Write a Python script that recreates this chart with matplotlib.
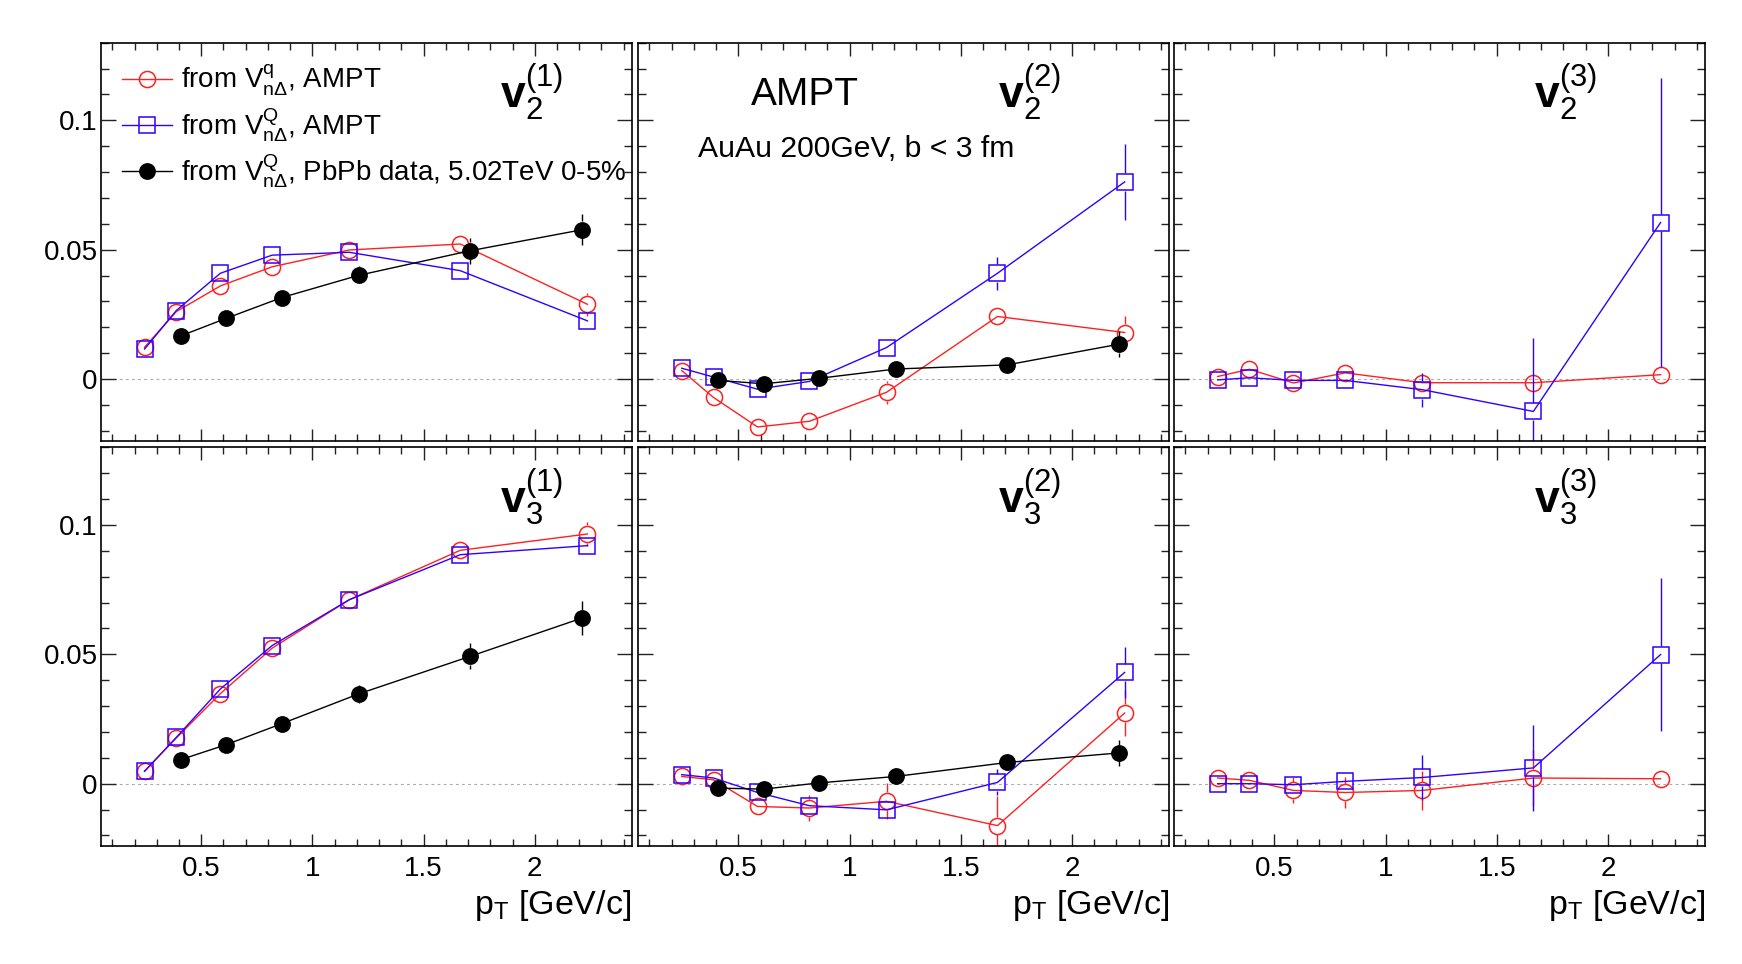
import matplotlib
matplotlib.use("Agg")
import matplotlib.pyplot as plt
from matplotlib.ticker import MultipleLocator

plt.rcParams['font.family'] = ['Liberation Sans', 'DejaVu Sans']
plt.rcParams['mathtext.fontset'] = 'custom'
plt.rcParams['mathtext.rm'] = 'Liberation Sans'
plt.rcParams['mathtext.it'] = 'Liberation Sans:italic'
plt.rcParams['mathtext.bf'] = 'Liberation Sans:bold'
plt.rcParams['mathtext.sf'] = 'Liberation Sans'

# ---------------- data ----------------
pt_ampt = [0.245, 0.388, 0.586, 0.819, 1.166, 1.665, 2.237]
pt_data = [0.408, 0.613, 0.862, 1.208, 1.709, 2.212]

# v2^(1)
v21_q = [0.0123, 0.0261, 0.0360, 0.0434, 0.0499, 0.0522, 0.0289]
v21_q_err = [0.001, 0.001, 0.001, 0.001, 0.0015, 0.002, 0.0045]
v21_Q = [0.0116, 0.0265, 0.0409, 0.0479, 0.0490, 0.0419, 0.0225]
v21_Q_err = [0.001, 0.001, 0.001, 0.001, 0.0015, 0.002, 0.003]
v21_d = [0.0167, 0.0235, 0.0315, 0.0401, 0.0496, 0.0577]
v21_d_err = [0.001, 0.001, 0.0015, 0.0035, 0.005, 0.006]

# v2^(2)
v22_q = [0.0033, -0.0071, -0.0185, -0.0163, -0.0051, 0.0242, 0.0180]
v22_q_err = [0.001, 0.001, 0.001, 0.002, 0.0044, 0.002, 0.0063]
v22_Q = [0.0042, 0.0008, -0.0039, -0.0009, 0.0122, 0.0409, 0.0762]
v22_Q_err = [0.001, 0.001, 0.001, 0.001, 0.002, 0.0064, 0.0148]
v22_d = [-0.0005, -0.0018, 0.0003, 0.0039, 0.0055, 0.0135]
v22_d_err = [0.001, 0.001, 0.001, 0.001, 0.001, 0.005]

# v2^(3)
v23_q = [0.0010, 0.0038, -0.0015, 0.0024, -0.0014, -0.0014, 0.0017]
v23_q_err = [0.001, 0.001, 0.001, 0.001, 0.002, 0.002, 0.002]
v23_Q = [-0.0003, 0.0005, -0.0005, -0.0005, -0.0041, -0.0125, 0.0605]
v23_Q_err = [0.001, 0.001, 0.001, 0.001, 0.0065, 0.0283, 0.056]

# v3^(1)
v31_q = [0.0048, 0.0177, 0.0348, 0.0524, 0.0711, 0.0902, 0.0965]
v31_q_err = [0.001, 0.001, 0.001, 0.001, 0.001, 0.002, 0.0045]
v31_Q = [0.0048, 0.0179, 0.0366, 0.0534, 0.0711, 0.0885, 0.0920]
v31_Q_err = [0.001, 0.001, 0.001, 0.001, 0.001, 0.002, 0.003]
v31_d = [0.0093, 0.0151, 0.0232, 0.0347, 0.0492, 0.0640]
v31_d_err = [0.001, 0.001, 0.0015, 0.0035, 0.005, 0.0065]

# v3^(2)
v32_q = [0.0028, 0.0015, -0.0088, -0.0094, -0.0068, -0.0162, 0.0273]
v32_q_err = [0.001, 0.001, 0.001, 0.005, 0.007, 0.0113, 0.009]
v32_Q = [0.0035, 0.0022, -0.0034, -0.0085, -0.0101, 0.0005, 0.0430]
v32_Q_err = [0.001, 0.001, 0.001, 0.001, 0.003, 0.005, 0.0099]
v32_d = [-0.0017, -0.0021, 0.0003, 0.0028, 0.0082, 0.0119]
v32_d_err = [0.001, 0.001, 0.001, 0.001, 0.001, 0.005]

# v3^(3)
v33_q = [0.0022, 0.0013, -0.0026, -0.0034, -0.0026, 0.0022, 0.0019]
v33_q_err = [0.001, 0.001, 0.005, 0.006, 0.0075, 0.011, 0.001]
v33_Q = [0.0000, 0.0000, -0.0004, 0.0009, 0.0024, 0.0061, 0.0499]
v33_Q_err = [0.001, 0.001, 0.001, 0.001, 0.0087, 0.0165, 0.0294]

panel_labels = [[r'$\mathbf{v}_{\mathrm{2}}^{\mathrm{(1)}}$', r'$\mathbf{v}_{\mathrm{2}}^{\mathrm{(2)}}$', r'$\mathbf{v}_{\mathrm{2}}^{\mathrm{(3)}}$'],
                [r'$\mathbf{v}_{\mathrm{3}}^{\mathrm{(1)}}$', r'$\mathbf{v}_{\mathrm{3}}^{\mathrm{(2)}}$', r'$\mathbf{v}_{\mathrm{3}}^{\mathrm{(3)}}$']]

series = [
    [(v21_q, v21_q_err, v21_Q, v21_Q_err, v21_d, v21_d_err),
     (v22_q, v22_q_err, v22_Q, v22_Q_err, v22_d, v22_d_err),
     (v23_q, v23_q_err, v23_Q, v23_Q_err, None, None)],
    [(v31_q, v31_q_err, v31_Q, v31_Q_err, v31_d, v31_d_err),
     (v32_q, v32_q_err, v32_Q, v32_Q_err, v32_d, v32_d_err),
     (v33_q, v33_q_err, v33_Q, v33_Q_err, None, None)],
]

legend_labels = [r'from $\mathrm{V}^{\mathrm{q}}_{\mathrm{n\Delta}}$, AMPT',
                 r'from $\mathrm{V}^{\mathrm{Q}}_{\mathrm{n\Delta}}$, AMPT',
                 r'from $\mathrm{V}^{\mathrm{Q}}_{\mathrm{n\Delta}}$, PbPb data, 5.02TeV 0-5%']

xticks = [0.5, 1.0, 1.5, 2.0]
xtick_labels = ['0.5', '1', '1.5', '2']
yticks = [0.0, 0.05, 0.1]
ytick_labels = ['0', '0.05', '0.1']

# ---------------- style ----------------
RED = '#ff2020'
BLUE = '#3000ff'
BLACK = '#000000'
XLIM = (0.047, 2.435)
YLIM = (-0.024, 0.130)

W, H = 1742, 964
DPI = 100
fig = plt.figure(figsize=(W / DPI, H / DPI), dpi=DPI)

col_x = [100.5, 637.7, 1173.6]
col_w = 531.0
row_top = [42.7, 447.3]
row_h = 398.5

MS_OPEN = 11.6
MS_FILL = 11.0
MEW = 1.1
LW = 1.0


def draw(ax, x, y, e, color, marker, filled, ms):
    line, = ax.plot(x, y, color=color, lw=LW, marker=marker, ms=ms,
                    mfc=color if filled else 'none', mec=color, mew=MEW, zorder=3 if filled else 2)
    half_px = (ms + MEW) / 72 * DPI / 2
    half = half_px * (YLIM[1] - YLIM[0]) / row_h
    for xi, yi, ei in zip(x, y, e):
        if ei > half:
            ax.vlines([xi, xi], [yi + half, yi - ei], [yi + ei, yi - half],
                      color=color, lw=LW, zorder=2)
    return line


for r in range(2):
    for c in range(3):
        ax = fig.add_axes([col_x[c] / W, 1 - (row_top[r] + row_h) / H, col_w / W, row_h / H])
        ax.set_xlim(*XLIM)
        ax.set_ylim(*YLIM)
        ax.axhline(0, color='#aaaaaa', lw=0.8, ls=(0, (2.5, 3)), zorder=1)
        qv, qe, Qv, Qe, dv, de = series[r][c]
        h1 = draw(ax, pt_ampt, qv, qe, RED, 'o', False, MS_OPEN)
        h2 = draw(ax, pt_ampt, Qv, Qe, BLUE, 's', False, MS_OPEN)
        h3 = None
        if dv is not None:
            h3 = draw(ax, pt_data, dv, de, BLACK, 'o', True, MS_FILL)

        ax.set_xticks(xticks, labels=xtick_labels)
        ax.set_yticks(yticks, labels=ytick_labels)
        ax.xaxis.set_minor_locator(MultipleLocator(0.1))
        ax.yaxis.set_minor_locator(MultipleLocator(0.01))
        ax.tick_params(which='both', direction='in', top=True, right=True, width=1.0, color='#222222')
        ax.tick_params(axis='y', which='major', length=11, pad=2, labelsize=20)
        ax.tick_params(axis='y', which='minor', length=5.5)
        ax.tick_params(axis='x', which='major', length=9, pad=7, labelsize=20)
        ax.tick_params(axis='x', which='minor', length=4.7)
        if c != 0:
            ax.tick_params(axis='y', labelleft=False)
        if r == 0:
            ax.tick_params(axis='x', labelbottom=False)
        for s in ax.spines.values():
            s.set_linewidth(1.2)
            s.set_color('black')

        lx = 0.752 if c == 0 else 0.679
        ax.text(lx, 0.834, panel_labels[r][c], transform=ax.transAxes,
                ha='left', va='baseline', fontsize=32)

        if r == 1:
            ax.text(1.0, -0.170, r'$\mathrm{p}_{\mathrm{T}}$ [GeV/c]', transform=ax.transAxes,
                    ha='right', va='baseline', fontsize=24.5)

        if r == 0 and c == 0:
            ax.legend([h1, h2, h3], legend_labels, loc='upper left',
                      bbox_to_anchor=(0.040, 0.949), frameon=False, fontsize=20,
                      handlelength=1.8, handletextpad=0.33, labelspacing=0.3,
                      borderpad=0, borderaxespad=0, numpoints=1)
        if r == 0 and c == 1:
            ax.text(0.2135, 0.8436, 'AMPT', transform=ax.transAxes,
                    ha='left', va='baseline', fontsize=28)
            ax.text(0.113, 0.713, 'AuAu 200GeV, b < 3 fm', transform=ax.transAxes,
                    ha='left', va='baseline', fontsize=21.7)

fig.savefig('out.png', dpi=DPI)
